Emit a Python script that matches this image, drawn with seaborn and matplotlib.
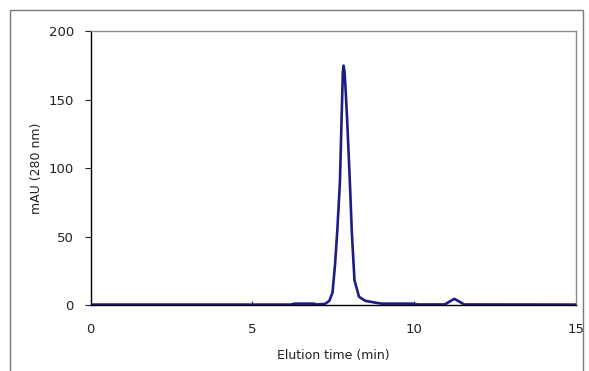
import numpy as np
import pandas as pd
import matplotlib
matplotlib.use("Agg")
import matplotlib.pyplot as plt
import seaborn as sns
from matplotlib.patches import Rectangle

# chromatogram trace
elution_time = [0.0, 6.2, 6.3, 6.9, 7.0, 7.25, 7.38, 7.48, 7.56, 7.63, 7.71, 7.76,
                7.80, 7.82, 7.85, 7.88, 7.94, 8.02, 8.08, 8.16, 8.3, 8.5, 8.86, 9.0,
                9.97, 10.1, 10.95, 11.1, 11.25, 11.4, 11.55, 15.0]
absorbance = [0.3, 0.3, 1.0, 1.0, 0.4, 0.8, 3, 9, 30, 55, 90, 135,
              170, 175, 171, 160, 132, 88, 52, 18, 6, 3, 1.5, 1.0,
              1.0, 0.4, 0.4, 2.5, 4.5, 2.5, 0.4, 0.3]

x_ticks = [0, 5, 10, 15]
y_ticks = [0, 50, 100, 150, 200]

sns.set_theme(style="white")
plt.rcParams["font.family"] = ["DejaVu Sans"]

df = pd.DataFrame({"time": elution_time, "mAU": absorbance})

fig = plt.figure(figsize=(5.89, 3.71), dpi=100)
ax = fig.add_axes([0.1537, 0.1779, 0.8238, 0.7372])

sns.lineplot(data=df, x="time", y="mAU", ax=ax, color="#1c1c84",
             linewidth=1.9, estimator=None)

ax.set_xlim(0, 15)
ax.set_ylim(0, 200)
ax.set_xticks(x_ticks)
ax.set_yticks(y_ticks)
ax.set_xlabel("Elution time (min)", fontsize=9, color="#222222", labelpad=9)
ax.set_ylabel("mAU (280 nm)", fontsize=9, color="#222222", labelpad=4)

ax.tick_params(axis="x", direction="in", length=3, width=0.8, pad=13,
               labelsize=9.5, colors="#222222", bottom=True)
ax.tick_params(axis="y", direction="out", length=4, width=0.8, pad=8,
               labelsize=9.5, colors="#222222", left=True)

for side in ["left", "bottom"]:
    ax.spines[side].set_color("black")
    ax.spines[side].set_linewidth(1.0)
for side in ["top", "right"]:
    ax.spines[side].set_color("#8c8c8c")
    ax.spines[side].set_linewidth(1.0)

# outer chart frame
fig.patches.append(Rectangle((10 / 589, -0.02), 573 / 589, (371 - 10) / 371 + 0.02,
                             transform=fig.transFigure, fill=False,
                             edgecolor="#7a7a7a", linewidth=1.0))

fig.savefig("out.png", dpi=100)
